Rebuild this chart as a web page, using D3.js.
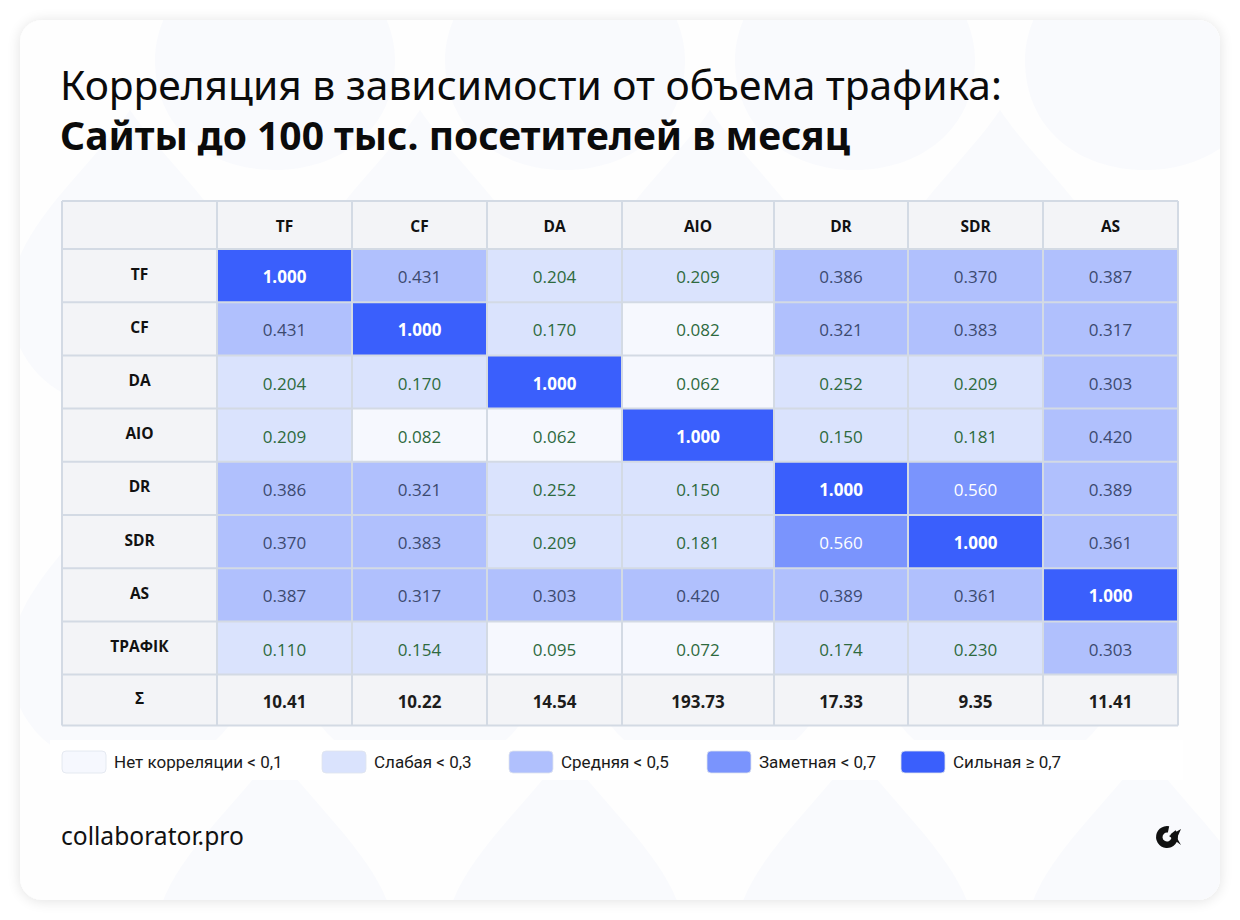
<!DOCTYPE html>
<html>
<head>
<meta charset="utf-8">
<script src="https://cdn.jsdelivr.net/npm/d3@7"></script>
<style>
  html, body { margin: 0; padding: 0; background: #ffffff; }
  svg { display: block; }
</style>
</head>
<body>
<svg id="chart" width="1240" height="920"></svg>
<script>
// Column and row labels
var colLabels = ["TF", "CF", "DA", "AIO", "DR", "SDR", "AS"];
var rowLabels = ["TF", "CF", "DA", "AIO", "DR", "SDR", "AS", "ТРАФІК"];

// Correlation values, one array per row
var rowTF    = [1.000, 0.431, 0.204, 0.209, 0.386, 0.370, 0.387];
var rowCF    = [0.431, 1.000, 0.170, 0.082, 0.321, 0.383, 0.317];
var rowDA    = [0.204, 0.170, 1.000, 0.062, 0.252, 0.209, 0.303];
var rowAIO   = [0.209, 0.082, 0.062, 1.000, 0.150, 0.181, 0.420];
var rowDR    = [0.386, 0.321, 0.252, 0.150, 1.000, 0.560, 0.389];
var rowSDR   = [0.370, 0.383, 0.209, 0.181, 0.560, 1.000, 0.361];
var rowAS    = [0.387, 0.317, 0.303, 0.420, 0.389, 0.361, 1.000];
var rowTraffic = [0.110, 0.154, 0.095, 0.072, 0.174, 0.230, 0.303];
var matrix = [rowTF, rowCF, rowDA, rowAIO, rowDR, rowSDR, rowAS, rowTraffic];

// Sum row
var sumLabel = "Σ";
var sums = ["10.41", "10.22", "14.54", "193.73", "17.33", "9.35", "11.41"];

// Legend classes
var legendThresholds = [0.1, 0.3, 0.5, 0.7];
var legendLabels = ["Нет корреляции < 0,1", "Слабая < 0,3", "Средняя < 0,5", "Заметная < 0,7", "Сильная ≥ 0,7"];

var titleLine1 = "Корреляция в зависимости от объема трафика:";
var titleLine2 = "Сайты до 100 тыс. посетителей в месяц";
var footerText = "collaborator.pro";

var svg = d3.select("#chart");

// colour classes
var fillScale = d3.scaleThreshold()
    .domain(legendThresholds)
    .range(["#f6f8fe", "#dae3fd", "#b0c0fd", "#7a94fd", "#3a5ffc"]);
var textScale = d3.scaleThreshold()
    .domain(legendThresholds)
    .range(["#2e6a3e", "#2e6a3e", "#3c4a70", "#ffffff", "#ffffff"]);

// Card with shadow
var defs = svg.append("defs");
var shadow = defs.append("filter").attr("id", "shadow")
    .attr("x", "-5%").attr("y", "-5%").attr("width", "110%").attr("height", "110%");
shadow.append("feGaussianBlur").attr("in", "SourceAlpha").attr("stdDeviation", 7);
shadow.append("feOffset").attr("dx", 0).attr("dy", 1).attr("result", "b");
shadow.append("feComponentTransfer").append("feFuncA").attr("type", "linear").attr("slope", 0.12);
var merge = shadow.append("feMerge");
merge.append("feMergeNode");
merge.append("feMergeNode").attr("in", "SourceGraphic");

defs.append("clipPath").attr("id", "cardClip")
  .append("rect").attr("x", 20).attr("y", 20).attr("width", 1200).attr("height", 880).attr("rx", 22);

svg.append("rect")
    .attr("x", 20).attr("y", 20)
    .attr("width", 1200).attr("height", 880)
    .attr("rx", 22)
    .attr("fill", "#fefefe")
    .attr("filter", "url(#shadow)");

// faint background pattern (logo-like drops)
var pattern = svg.append("g").attr("clip-path", "url(#cardClip)");
var dropCenters = [[130, 260], [420, 260], [710, 260], [1000, 260],
                   [130, 620], [420, 620], [710, 620], [1000, 620],
                   [275, 900], [565, 900], [855, 900], [1145, 900],
                   [275, 20], [565, 20], [855, 20], [1145, 20]];
pattern.selectAll("path.drop")
    .data(dropCenters)
    .enter().append("path")
    .attr("class", "drop")
    .attr("transform", function(d) { return "translate(" + d[0] + "," + d[1] + ")"; })
    .attr("d", "M0,-150 C40,-90 120,-30 120,40 C120,110 65,150 0,150 C-65,150 -120,110 -120,40 C-120,-30 -40,-90 0,-150 Z")
    .attr("fill", "#f9fafd");

// Title
var title = svg.append("g").style("font-family", "'Noto Sans', 'Open Sans', sans-serif").attr("fill", "#0b0b0b");
var t1 = title.append("text").attr("x", 60).attr("y", 100)
    .style("font-size", "37px").style("font-weight", 400).text(titleLine1);
var t2 = title.append("text").attr("x", 60).attr("y", 150)
    .style("font-size", "37px").style("font-weight", 700).text(titleLine2);
// fit text widths to the reference
function fitWidth(sel, target) {
    var w = sel.node().getComputedTextLength();
    var fs = parseFloat(sel.style("font-size"));
    sel.style("font-size", (fs * target / w) + "px");
}
fitWidth(t1, 942);
fitWidth(t2, 790);

// Table layout
var tableX = 62, tableY = 201;
var labelColW = 155;
var colWidths = [135, 135, 135, 152, 134, 135, 135];
var headerH = 48, rowH = 53.2, sumH = 51;
var colX = [tableX + labelColW];
colWidths.forEach(function(w, i) { colX.push(colX[i] + w); });
var tableW = colX[colX.length - 1] - tableX;
var rowY = [tableY + headerH];
rowLabels.forEach(function(r, i) { rowY.push(rowY[i] + rowH); });
var tableH = rowY[rowY.length - 1] + sumH - tableY;

var table = svg.append("g").style("font-family", "'Open Sans', 'Noto Sans', sans-serif");
var gridColor = "#d3dae4";

// base background (header tone)
table.append("rect")
    .attr("x", tableX).attr("y", tableY)
    .attr("width", tableW).attr("height", tableH)
    .attr("fill", "#f3f4f7");

// Cells
var cells = [];
matrix.forEach(function(row, ri) {
    row.forEach(function(v, ci) {
        cells.push({r: ri, c: ci, v: v});
    });
});

table.selectAll("rect.cell")
    .data(cells)
    .enter().append("rect")
    .attr("class", "cell")
    .attr("x", function(d) { return colX[d.c]; })
    .attr("y", function(d) { return rowY[d.r]; })
    .attr("width", function(d) { return colWidths[d.c]; })
    .attr("height", rowH)
    .attr("fill", function(d) { return fillScale(d.v); });

table.selectAll("text.val")
    .data(cells)
    .enter().append("text")
    .attr("class", "val")
    .attr("x", function(d) { return colX[d.c] + colWidths[d.c] / 2; })
    .attr("y", function(d) { return rowY[d.r] + rowH / 2 + 1; })
    .attr("text-anchor", "middle")
    .attr("dominant-baseline", "central")
    .style("font-size", "17px")
    .style("font-weight", function(d) { return d.v >= 0.7 ? 700 : 400; })
    .attr("fill", function(d) { return textScale(d.v); })
    .text(function(d) { return d.v.toFixed(3); });

// Header labels
table.selectAll("text.colLabel")
    .data(colLabels)
    .enter().append("text")
    .attr("class", "colLabel")
    .attr("x", function(d, i) { return colX[i] + colWidths[i] / 2; })
    .attr("y", tableY + headerH / 2 + 1)
    .attr("text-anchor", "middle")
    .attr("dominant-baseline", "central")
    .style("font-size", "15.5px")
    .style("font-weight", 700)
    .attr("fill", "#111")
    .text(function(d) { return d; });

// Row labels
table.selectAll("text.rowLabel")
    .data(rowLabels.concat([sumLabel]))
    .enter().append("text")
    .attr("class", "rowLabel")
    .attr("x", tableX + labelColW / 2)
    .attr("y", function(d, i) { return (i < rowLabels.length ? rowY[i] + rowH / 2 : rowY[i] + sumH / 2) - 2; })
    .attr("text-anchor", "middle")
    .attr("dominant-baseline", "central")
    .style("font-size", "15.5px")
    .style("font-weight", 700)
    .attr("fill", "#111")
    .text(function(d) { return d; });

// Sum row
table.selectAll("text.sum")
    .data(sums)
    .enter().append("text")
    .attr("class", "sum")
    .attr("x", function(d, i) { return colX[i] + colWidths[i] / 2; })
    .attr("y", rowY[rowLabels.length] + sumH / 2 + 1)
    .attr("text-anchor", "middle")
    .attr("dominant-baseline", "central")
    .style("font-size", "17px")
    .style("font-weight", 700)
    .attr("fill", "#1c1c1c")
    .text(function(d) { return d; });

// Grid lines
var vLines = [tableX].concat(colX);
table.selectAll("line.v")
    .data(vLines)
    .enter().append("line")
    .attr("x1", function(d) { return d; }).attr("x2", function(d) { return d; })
    .attr("y1", tableY).attr("y2", tableY + tableH)
    .attr("stroke", gridColor).attr("stroke-width", 2);
var hLines = [tableY].concat(rowY).concat([tableY + tableH]);
table.selectAll("line.h")
    .data(hLines)
    .enter().append("line")
    .attr("x1", tableX).attr("x2", tableX + tableW)
    .attr("y1", function(d) { return d; }).attr("y2", function(d) { return d; })
    .attr("stroke", gridColor).attr("stroke-width", 2);

// Legend
var legend = svg.append("g").style("font-family", "Roboto, sans-serif");
legend.append("rect")
    .attr("x", 50).attr("y", 740).attr("width", 1133).attr("height", 40)
    .attr("fill", "#ffffff");
var legendX = [62, 322, 509, 707, 901];
var legendSample = [0.05, 0.2, 0.4, 0.6, 0.8];
var items = legend.selectAll("g.item")
    .data(legendLabels)
    .enter().append("g")
    .attr("class", "item")
    .attr("transform", function(d, i) { return "translate(" + legendX[i] + ",751)"; });
items.append("rect")
    .attr("width", 44).attr("height", 22).attr("rx", 4)
    .attr("fill", function(d, i) { return fillScale(legendSample[i]); })
    .attr("stroke", "#dfe4ee").attr("stroke-width", 0.8);
items.append("text")
    .attr("x", 52).attr("y", 11)
    .attr("dominant-baseline", "central")
    .style("font-size", "17px")
    .attr("fill", "#1a1a1a")
    .text(function(d) { return d; });

// Footer
var footer = svg.append("text")
    .attr("x", 61).attr("y", 845)
    .style("font-family", "'Noto Sans', sans-serif")
    .style("font-size", "22px")
    .attr("fill", "#111")
    .text(footerText);
fitWidth(footer, 183);

// small logo mark
var logo = svg.append("g").attr("transform", "translate(1167,837)");
logo.append("path")
    .attr("d", d3.arc()({innerRadius: 4.5, outerRadius: 11, startAngle: 0.9, endAngle: 2 * Math.PI + 0.2}))
    .attr("fill", "#111");
logo.append("path")
    .attr("d", "M2,-1 L14,-8 L10,1 L14,8 Z")
    .attr("fill", "#111");
</script>
</body>
</html>
